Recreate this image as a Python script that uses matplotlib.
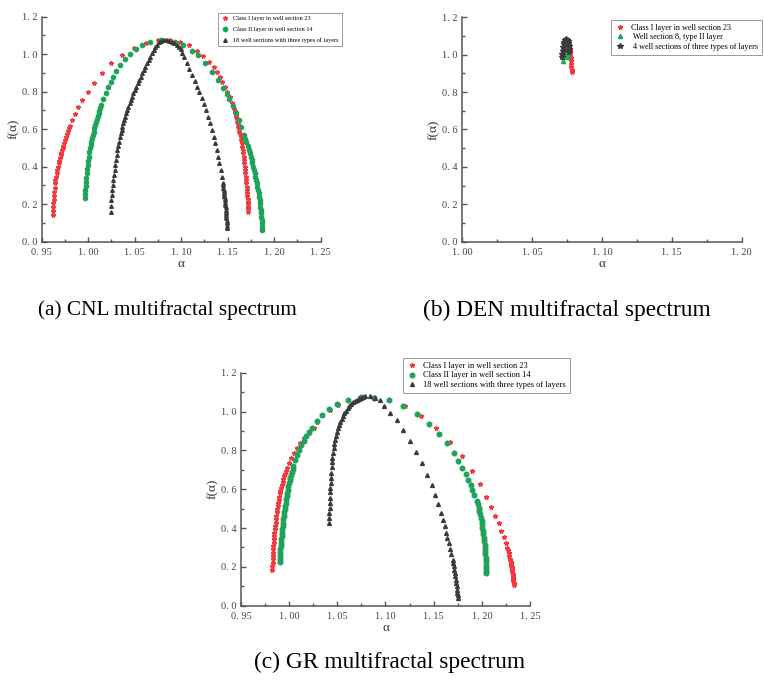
import matplotlib
matplotlib.use('Agg')
import matplotlib.pyplot as plt
from matplotlib.ticker import MultipleLocator, FuncFormatter

plt.rcParams['font.family'] = ['Liberation Serif', 'DejaVu Serif']

RED = '#f2393f'
GREEN = '#1fa35a'
DARK = '#3b3b3b'
AXCOL = '#555555'

# ---------------- (a) CNL ----------------
cnl_labels = ['Class I layer in well section 23',
              'Class II layer in well section 14',
              '18 well sections with three types of layers']

cnl_red_alpha = [0.9618, 0.9620, 0.9622, 0.9625, 0.9628, 0.9631, 0.9634, 0.9638, 0.9643, 0.9648,
                 0.9654, 0.9660, 0.9668, 0.9675, 0.9683, 0.9690, 0.9697, 0.9704, 0.9711, 0.9719,
                 0.9726, 0.9733, 0.9740, 0.9751, 0.9762, 0.9772, 0.9783, 0.9794, 0.9805, 0.9826,
                 0.9855, 0.9891, 0.9937, 0.9995, 1.0063, 1.0145, 1.0246, 1.0364, 1.0489, 1.0622,
                 1.0754, 1.0880, 1.0987, 1.1087, 1.1166, 1.1237, 1.1302, 1.1356, 1.1388, 1.1417,
                 1.1442, 1.1471, 1.1496, 1.1525, 1.1546, 1.1568, 1.1573, 1.1578, 1.1584, 1.1589,
                 1.1595, 1.1601, 1.1607, 1.1614, 1.1620, 1.1626, 1.1632, 1.1639, 1.1645, 1.1650,
                 1.1656, 1.1661, 1.1666, 1.1670, 1.1675, 1.1679, 1.1683, 1.1686, 1.1690, 1.1693,
                 1.1696, 1.1699, 1.1702, 1.1704, 1.1707, 1.1710, 1.1713, 1.1715, 1.1716, 1.1717,
                 1.1718, 1.1719]
cnl_red_f = [0.142, 0.165, 0.187, 0.204, 0.225, 0.245, 0.265, 0.288, 0.311, 0.330,
             0.347, 0.365, 0.382, 0.400, 0.418, 0.433, 0.448, 0.462, 0.475, 0.487,
             0.498, 0.511, 0.524, 0.542, 0.560, 0.576, 0.592, 0.606, 0.619, 0.649,
             0.681, 0.716, 0.756, 0.800, 0.848, 0.901, 0.951, 0.997, 1.035, 1.061,
             1.076, 1.076, 1.063, 1.047, 1.019, 0.990, 0.960, 0.933, 0.907, 0.880,
             0.853, 0.823, 0.796, 0.770, 0.738, 0.709, 0.698, 0.688, 0.677, 0.667,
             0.653, 0.640, 0.626, 0.613, 0.600, 0.587, 0.573, 0.560, 0.542, 0.525,
             0.507, 0.489, 0.471, 0.453, 0.435, 0.418, 0.400, 0.383, 0.365, 0.347,
             0.329, 0.311, 0.293, 0.276, 0.260, 0.245, 0.229, 0.213, 0.200, 0.187,
             0.173, 0.160]

cnl_green_alpha = [0.9966, 0.9968, 0.9970, 0.9973, 0.9977, 0.9980, 0.9984, 0.9989, 0.9995, 1.0000,
                   1.0005, 1.0012, 1.0020, 1.0027, 1.0034, 1.0041, 1.0048, 1.0057, 1.0066, 1.0075,
                   1.0084, 1.0093, 1.0102, 1.0111, 1.0120, 1.0131, 1.0142, 1.0163, 1.0188, 1.0213,
                   1.0242, 1.0271, 1.0303, 1.0342, 1.0392, 1.0450, 1.0514, 1.0582, 1.0665, 1.0785,
                   1.0934, 1.1023, 1.1113, 1.1185, 1.1256, 1.1335, 1.1400, 1.1453, 1.1489, 1.1518,
                   1.1554, 1.1590, 1.1618, 1.1647, 1.1676, 1.1689, 1.1701, 1.1714, 1.1726, 1.1737,
                   1.1747, 1.1756, 1.1765, 1.1774, 1.1783, 1.1791, 1.1798, 1.1805, 1.1812, 1.1819,
                   1.1826, 1.1832, 1.1837, 1.1843, 1.1848, 1.1852, 1.1855, 1.1859, 1.1862, 1.1866,
                   1.1869, 1.1871, 1.1873]
cnl_green_f = [0.231, 0.254, 0.276, 0.298, 0.320, 0.342, 0.364, 0.386, 0.409, 0.431,
               0.453, 0.476, 0.498, 0.515, 0.533, 0.551, 0.569, 0.587, 0.604, 0.622,
               0.640, 0.655, 0.670, 0.685, 0.699, 0.714, 0.729, 0.759, 0.791, 0.823,
               0.853, 0.880, 0.910, 0.942, 0.972, 1.003, 1.028, 1.051, 1.065, 1.075,
               1.063, 1.049, 1.019, 0.996, 0.955, 0.907, 0.862, 0.818, 0.788, 0.761,
               0.724, 0.684, 0.649, 0.610, 0.569, 0.550, 0.530, 0.510, 0.489, 0.471,
               0.453, 0.436, 0.418, 0.400, 0.382, 0.365, 0.347, 0.329, 0.311, 0.294,
               0.276, 0.258, 0.240, 0.222, 0.204, 0.187, 0.169, 0.151, 0.133, 0.116,
               0.098, 0.080, 0.062]

cnl_black_alpha = [1.0242, 1.0245, 1.0249, 1.0254, 1.0260, 1.0265, 1.0271, 1.0278, 1.0285, 1.0292,
                   1.0299, 1.0306, 1.0314, 1.0323, 1.0332, 1.0340, 1.0349, 1.0358, 1.0367, 1.0376,
                   1.0385, 1.0396, 1.0407, 1.0420, 1.0432, 1.0445, 1.0457, 1.0472, 1.0486, 1.0500,
                   1.0514, 1.0531, 1.0547, 1.0563, 1.0579, 1.0597, 1.0615, 1.0633, 1.0651, 1.0669,
                   1.0686, 1.0704, 1.0722, 1.0742, 1.0762, 1.0781, 1.0801, 1.0822, 1.0844, 1.0871,
                   1.0898, 1.0925, 1.0952, 1.0974, 1.0995, 1.1013, 1.1030, 1.1059, 1.1087, 1.1116,
                   1.1145, 1.1174, 1.1195, 1.1220, 1.1245, 1.1267, 1.1289, 1.1310, 1.1332, 1.1349,
                   1.1367, 1.1382, 1.1400, 1.1411, 1.1425, 1.1436, 1.1446, 1.1449, 1.1452, 1.1455,
                   1.1457, 1.1460, 1.1463, 1.1466, 1.1468, 1.1471, 1.1474, 1.1477, 1.1479, 1.1481,
                   1.1483, 1.1485, 1.1486, 1.1488, 1.1490, 1.1492, 1.1493]
cnl_black_f = [0.160, 0.190, 0.222, 0.249, 0.276, 0.302, 0.329, 0.356, 0.382, 0.409,
               0.436, 0.462, 0.489, 0.511, 0.533, 0.556, 0.578, 0.596, 0.613, 0.631,
               0.649, 0.667, 0.684, 0.702, 0.720, 0.738, 0.756, 0.773, 0.791, 0.809,
               0.827, 0.845, 0.862, 0.880, 0.898, 0.916, 0.933, 0.951, 0.969, 0.987,
               1.004, 1.020, 1.036, 1.050, 1.063, 1.071, 1.076, 1.077, 1.076, 1.072,
               1.067, 1.058, 1.049, 1.038, 1.026, 1.007, 0.987, 0.951, 0.919, 0.887,
               0.859, 0.827, 0.796, 0.764, 0.732, 0.702, 0.667, 0.631, 0.596, 0.560,
               0.524, 0.489, 0.453, 0.418, 0.382, 0.347, 0.311, 0.300, 0.289, 0.278,
               0.267, 0.256, 0.245, 0.234, 0.222, 0.209, 0.196, 0.183, 0.169, 0.158,
               0.146, 0.135, 0.124, 0.111, 0.098, 0.085, 0.071]

# ---------------- (b) DEN ----------------
den_labels = ['Class I layer in well section 23',
              ' Well section 8, type II layer',
              ' 4 well sections of three types of layers']

den_red_alpha = [1.0735, 1.0740, 1.0745, 1.0750, 1.0756, 1.0760, 1.0763, 1.0766, 1.0769, 1.0772,
                 1.0774, 1.0777, 1.0779, 1.0781, 1.0783, 1.0785, 1.0787]
den_red_f = [1.000, 1.030, 1.055, 1.070, 1.078, 1.068, 1.055, 1.040, 1.025, 1.010,
             0.995, 0.980, 0.965, 0.950, 0.935, 0.920, 0.905]

den_green_alpha = [1.0722, 1.0724, 1.0727, 1.0731, 1.0736, 1.0742, 1.0748, 1.0752, 1.0755, 1.0757, 1.0758]
den_green_f = [0.965, 0.985, 1.005, 1.025, 1.045, 1.060, 1.062, 1.045, 1.025, 1.005, 0.990]

den_black_alpha = [1.0715, 1.0717, 1.0720, 1.0723, 1.0727, 1.0731, 1.0737, 1.0744, 1.0751, 1.0756,
                   1.0760, 1.0763, 1.0765, 1.0767]
den_black_f = [0.988, 1.005, 1.022, 1.040, 1.055, 1.068, 1.078, 1.082, 1.080, 1.072,
               1.060, 1.045, 1.030, 1.015]

# ---------------- (c) GR ----------------
gr_labels = cnl_labels

gr_red_alpha = [0.9824, 0.9826, 0.9828, 0.9830, 0.9831, 0.9833, 0.9834, 0.9837, 0.9841, 0.9843,
                0.9845, 0.9848, 0.9852, 0.9855, 0.9859, 0.9862, 0.9866, 0.9871, 0.9876, 0.9881,
                0.9886, 0.9891, 0.9897, 0.9903, 0.9910, 0.9917, 0.9924, 0.9932, 0.9941, 0.9950,
                0.9959, 0.9969, 0.9979, 1.0000, 1.0024, 1.0052, 1.0083, 1.0117, 1.0159, 1.0203,
                1.0255, 1.0290, 1.0345, 1.0420, 1.0505, 1.0610, 1.0740, 1.0880, 1.1040, 1.1200,
                1.1366, 1.1521, 1.1665, 1.1790, 1.1893, 1.1976, 1.2048, 1.2100, 1.2141, 1.2176,
                1.2203, 1.2228, 1.2248, 1.2266, 1.2273, 1.2279, 1.2286, 1.2293, 1.2296, 1.2298,
                1.2301, 1.2303, 1.2306, 1.2309, 1.2312, 1.2314, 1.2317, 1.2319, 1.2322, 1.2324,
                1.2326, 1.2328, 1.2330, 1.2331]
gr_red_f = [0.186, 0.204, 0.221, 0.238, 0.255, 0.272, 0.290, 0.307, 0.324, 0.341,
            0.359, 0.376, 0.393, 0.410, 0.428, 0.445, 0.462, 0.480, 0.497, 0.514,
            0.531, 0.546, 0.562, 0.578, 0.593, 0.607, 0.622, 0.637, 0.652, 0.666,
            0.679, 0.693, 0.707, 0.733, 0.759, 0.784, 0.810, 0.836, 0.862, 0.888,
            0.914, 0.947, 0.980, 1.010, 1.036, 1.058, 1.073, 1.073, 1.058, 1.028,
            0.979, 0.916, 0.841, 0.769, 0.695, 0.626, 0.562, 0.510, 0.462, 0.424,
            0.384, 0.355, 0.324, 0.298, 0.285, 0.272, 0.257, 0.241, 0.233, 0.226,
            0.219, 0.212, 0.205, 0.197, 0.190, 0.183, 0.174, 0.165, 0.157, 0.148,
            0.138, 0.128, 0.119, 0.109]

gr_green_alpha = [0.9903, 0.9905, 0.9907, 0.9909, 0.9910, 0.9913, 0.9917, 0.9920, 0.9924, 0.9927,
                  0.9931, 0.9934, 0.9938, 0.9941, 0.9945, 0.9950, 0.9955, 0.9960, 0.9966, 0.9971,
                  0.9976, 0.9981, 0.9986, 0.9993, 1.0000, 1.0007, 1.0014, 1.0021, 1.0028, 1.0036,
                  1.0045, 1.0062, 1.0079, 1.0103, 1.0128, 1.0152, 1.0179, 1.0207, 1.0238, 1.0286,
                  1.0341, 1.0414, 1.0500, 1.0607, 1.0745, 1.0886, 1.1038, 1.1186, 1.1331, 1.1452,
                  1.1555, 1.1641, 1.1710, 1.1752, 1.1797, 1.1831, 1.1859, 1.1883, 1.1903, 1.1924,
                  1.1945, 1.1956, 1.1966, 1.1975, 1.1983, 1.1990, 1.1997, 1.2002, 1.2007, 1.2012,
                  1.2017, 1.2021, 1.2024, 1.2028, 1.2031, 1.2035, 1.2038, 1.2040, 1.2041, 1.2043,
                  1.2045, 1.2047, 1.2048]
gr_green_f = [0.224, 0.240, 0.255, 0.272, 0.290, 0.307, 0.324, 0.341, 0.359, 0.376,
              0.393, 0.410, 0.428, 0.445, 0.462, 0.480, 0.497, 0.514, 0.531, 0.548,
              0.566, 0.581, 0.597, 0.614, 0.631, 0.645, 0.660, 0.675, 0.690, 0.705,
              0.721, 0.748, 0.776, 0.803, 0.828, 0.848, 0.872, 0.893, 0.917, 0.952,
              0.983, 1.012, 1.038, 1.060, 1.074, 1.072, 1.060, 1.031, 0.988, 0.936,
              0.884, 0.836, 0.786, 0.747, 0.709, 0.678, 0.647, 0.621, 0.597, 0.569,
              0.540, 0.522, 0.505, 0.488, 0.471, 0.453, 0.436, 0.419, 0.402, 0.384,
              0.367, 0.350, 0.333, 0.315, 0.298, 0.281, 0.264, 0.246, 0.229, 0.212,
              0.195, 0.180, 0.166]

gr_black_alpha = [1.0414, 1.0415, 1.0417, 1.0419, 1.0421, 1.0422, 1.0424, 1.0427, 1.0431, 1.0434,
                  1.0438, 1.0441, 1.0445, 1.0450, 1.0455, 1.0462, 1.0469, 1.0477, 1.0486, 1.0496,
                  1.0507, 1.0519, 1.0531, 1.0545, 1.0559, 1.0574, 1.0590, 1.0607, 1.0624, 1.0643,
                  1.0662, 1.0682, 1.0703, 1.0724, 1.0745, 1.0767, 1.0790, 1.0838, 1.0893, 1.0948,
                  1.0986, 1.1048, 1.1117, 1.1186, 1.1255, 1.1321, 1.1383, 1.1434, 1.1479, 1.1514,
                  1.1548, 1.1572, 1.1593, 1.1614, 1.1628, 1.1641, 1.1655, 1.1669, 1.1683, 1.1697,
                  1.1704, 1.1710, 1.1716, 1.1721, 1.1726, 1.1731, 1.1735, 1.1738, 1.1742, 1.1745,
                  1.1749, 1.1752]
gr_black_f = [0.428, 0.454, 0.479, 0.505, 0.531, 0.557, 0.583, 0.608, 0.634, 0.660,
              0.686, 0.712, 0.738, 0.762, 0.786, 0.810, 0.833, 0.855, 0.876, 0.895,
              0.914, 0.931, 0.948, 0.964, 0.979, 0.992, 1.005, 1.017, 1.028, 1.038,
              1.047, 1.055, 1.062, 1.067, 1.072, 1.075, 1.078, 1.078, 1.072, 1.062,
              1.028, 0.991, 0.957, 0.907, 0.850, 0.793, 0.733, 0.674, 0.622, 0.571,
              0.526, 0.479, 0.441, 0.410, 0.376, 0.350, 0.324, 0.293, 0.264, 0.234,
              0.218, 0.203, 0.186, 0.169, 0.151, 0.134, 0.117, 0.100, 0.083, 0.066,
              0.053, 0.040]


def tick_fmt(decimals):
    # wide-spaced decimal point, like the original figure font
    return FuncFormatter(lambda v, pos: f'{v:.{decimals}f}'.replace('.', '. '))


def style_axes(ax, xlim):
    ax.set_xlim(*xlim)
    ax.set_ylim(0, 1.2)
    for side in ('top', 'right'):
        ax.spines[side].set_visible(False)
    for side in ('left', 'bottom'):
        ax.spines[side].set_color(AXCOL)
        ax.spines[side].set_linewidth(1.1)
    ax.xaxis.set_major_locator(MultipleLocator(0.05))
    ax.xaxis.set_minor_locator(MultipleLocator(0.025))
    ax.yaxis.set_major_locator(MultipleLocator(0.2))
    ax.yaxis.set_minor_locator(MultipleLocator(0.1))
    ax.xaxis.set_major_formatter(tick_fmt(2))
    ax.yaxis.set_major_formatter(tick_fmt(1))
    ax.tick_params(which='both', direction='in', color=AXCOL, width=1.0,
                   labelsize=7.5, labelcolor='#444444')
    ax.tick_params(which='major', length=3.5)
    ax.tick_params(which='minor', length=2)
    ax.tick_params(axis='x', which='major', pad=4.5)
    ax.tick_params(axis='y', which='major', pad=3)
    ax.set_xlabel('α', fontsize=9.5, color='#333333', labelpad=0.5)
    ax.set_ylabel('f(α)', fontsize=9.5, color='#333333', labelpad=1.5)


def add_legend(ax, fig, labels, anchor, fontsize, spacing):
    leg = ax.legend(labels, loc='upper left', bbox_to_anchor=anchor,
                    bbox_transform=fig.transFigure, fontsize=fontsize,
                    frameon=True, fancybox=False, framealpha=1, edgecolor='#9a9a9a',
                    borderaxespad=0, numpoints=1, handlelength=1.3, handletextpad=0.7,
                    labelspacing=spacing, borderpad=0.45)
    leg.get_frame().set_linewidth(0.7)
    return leg


fig = plt.figure(figsize=(7.64, 6.83), dpi=100)

# (a)
ax_a = fig.add_axes([0.0546, 0.6461, 0.3652, 0.3294])
ax_a.plot(cnl_red_alpha, cnl_red_f, ls='none', marker='*', ms=3.2, color=RED, mec=RED)
ax_a.plot(cnl_green_alpha, cnl_green_f, ls='none', marker='h', ms=3.3, color=GREEN, mec=GREEN)
ax_a.plot(cnl_black_alpha, cnl_black_f, ls='none', marker='^', ms=2.6, color=DARK, mec=DARK)
style_axes(ax_a, (0.95, 1.25))
add_legend(ax_a, fig, cnl_labels, (0.2853, 0.981), 4.5, 0.85)

# (b)
ax_b = fig.add_axes([0.6047, 0.6461, 0.3661, 0.3286])
ax_b.plot(den_red_alpha, den_red_f, ls='none', marker='*', ms=3.4, color=RED, mec=RED)
ax_b.plot(den_green_alpha, den_green_f, ls='none', marker='^', ms=3.0, color=GREEN, mec=GREEN)
ax_b.plot(den_black_alpha, den_black_f, ls='none', marker='*', ms=3.8, color=DARK, mec=DARK)
style_axes(ax_b, (1.00, 1.20))
add_legend(ax_b, fig, den_labels, (0.7997, 0.9707), 5.9, 0.2)

# (c)
ax_c = fig.add_axes([0.3154, 0.1132, 0.3783, 0.3411])
ax_c.plot(gr_red_alpha, gr_red_f, ls='none', marker='*', ms=3.4, color=RED, mec=RED)
ax_c.plot(gr_green_alpha, gr_green_f, ls='none', marker='h', ms=3.6, color=GREEN, mec=GREEN)
ax_c.plot(gr_black_alpha, gr_black_f, ls='none', marker='^', ms=2.8, color=DARK, mec=DARK)
style_axes(ax_c, (0.95, 1.25))
add_legend(ax_c, fig, gr_labels, (0.5275, 0.4758), 6.0, 0.2)

# captions
fig.text(167 / 764, 1 - 310 / 683, '(a) CNL multifractal spectrum', ha='center', va='center', fontsize=15.3)
fig.text(567 / 764, 1 - 310 / 683, '(b) DEN multifractal spectrum', ha='center', va='center', fontsize=16.8)
fig.text(390 / 764, 1 - 662 / 683, '(c) GR multifractal spectrum', ha='center', va='center', fontsize=16.8)

fig.savefig('out.png', dpi=100)
